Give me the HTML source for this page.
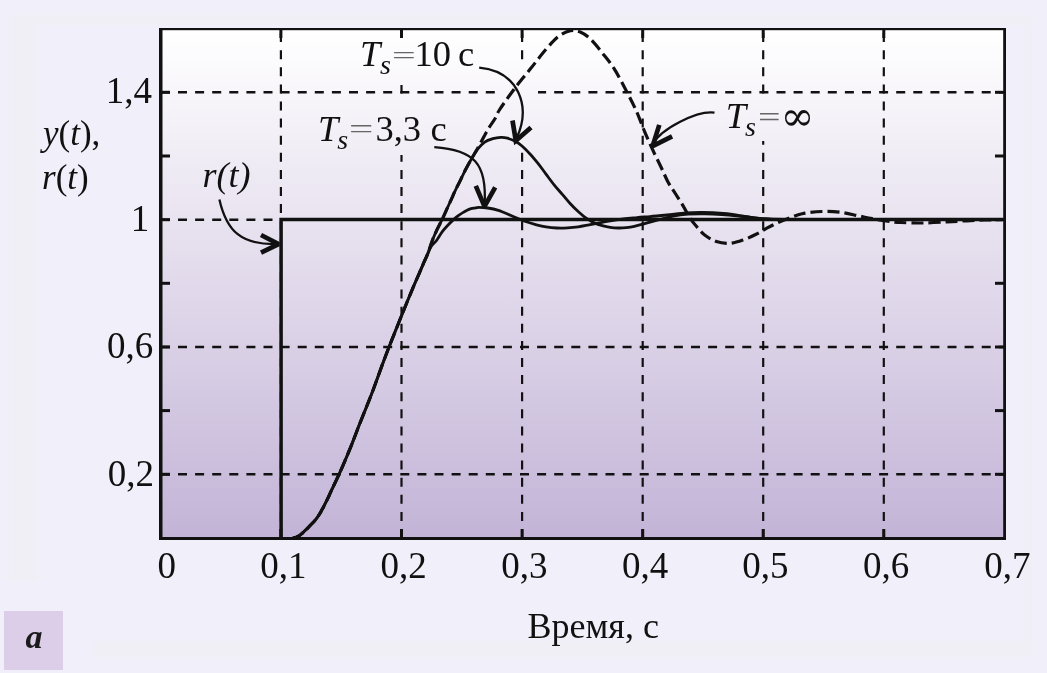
<!DOCTYPE html>
<html><head><meta charset="utf-8"><style>
html,body{margin:0;padding:0;background:#f1f0fa;}
body{width:1047px;height:673px;overflow:hidden;position:relative;}
svg{position:absolute;left:0;top:0;display:block;}
svg text{font-kerning:none;}
.lbl{position:absolute;left:4px;top:611px;width:59px;height:59px;background:#dccde8;}
</style></head><body>
<svg width="1047" height="673" viewBox="0 0 1047 673">
<defs>
<linearGradient id="pg" gradientUnits="userSpaceOnUse" x1="0" y1="30" x2="0" y2="537">
<stop offset="0" stop-color="#ffffff"/>
<stop offset="1" stop-color="#c3b4d7"/>
</linearGradient>
</defs>
<rect x="0" y="0" width="1047" height="673" fill="#f1f0fa"/>
<g fill="#f1eff6"><rect x="9" y="14.5" width="1023" height="10.5"/><rect x="9" y="25" width="28" height="556"/><rect x="1025" y="25" width="7" height="632.5"/><rect x="93" y="641" width="932" height="16.5"/></g>
<rect x="160" y="29" width="844" height="509" fill="url(#pg)"/>
<g stroke="#111" stroke-width="2.5" stroke-dasharray="9 8.1" fill="none">
<line x1="401.5" y1="538" x2="401.5" y2="30" stroke-width="2.2"/>
<line x1="522.1" y1="538" x2="522.1" y2="30" stroke-width="2.2"/>
<line x1="642.7" y1="538" x2="642.7" y2="30" stroke-width="2.2"/>
<line x1="763.2" y1="538" x2="763.2" y2="30" stroke-width="2.2"/>
<line x1="883.8" y1="538" x2="883.8" y2="30" stroke-width="2.2"/>
<line x1="280.9" y1="538" x2="280.9" y2="30" stroke-width="2.2"/>
<line x1="160.9" y1="474.3" x2="1003" y2="474.3" stroke-dasharray="9 8.1"/>
<line x1="160.9" y1="347.0" x2="1003" y2="347.0" stroke-dasharray="9 8.1"/>
<line x1="160.9" y1="219.7" x2="1003" y2="219.7" stroke-dasharray="9 8.1"/>
<line x1="160.9" y1="92.3" x2="1003" y2="92.3" stroke-dasharray="9 8.1"/>
</g>
<g fill="url(#pg)">
<rect x="355" y="38" width="125" height="47"/>
<rect x="315" y="95" width="135" height="60"/>
<rect x="496" y="67" width="42" height="83"/>
<rect x="722" y="95" width="93" height="46"/>
</g>
<g stroke="#111" stroke-width="3" fill="none">
<line x1="161" y1="474.3" x2="170" y2="474.3"/>
<line x1="1004" y1="474.3" x2="995" y2="474.3"/>
<line x1="161" y1="410.6" x2="170" y2="410.6"/>
<line x1="1004" y1="410.6" x2="995" y2="410.6"/>
<line x1="161" y1="347.0" x2="170" y2="347.0"/>
<line x1="1004" y1="347.0" x2="995" y2="347.0"/>
<line x1="161" y1="283.3" x2="170" y2="283.3"/>
<line x1="1004" y1="283.3" x2="995" y2="283.3"/>
<line x1="161" y1="219.7" x2="170" y2="219.7"/>
<line x1="1004" y1="219.7" x2="995" y2="219.7"/>
<line x1="161" y1="156.0" x2="170" y2="156.0"/>
<line x1="1004" y1="156.0" x2="995" y2="156.0"/>
<line x1="161" y1="92.3" x2="170" y2="92.3"/>
<line x1="1004" y1="92.3" x2="995" y2="92.3"/>
<line x1="280.9" y1="29" x2="280.9" y2="38"/>
<line x1="280.9" y1="538" x2="280.9" y2="529"/>
<line x1="401.5" y1="29" x2="401.5" y2="38"/>
<line x1="401.5" y1="538" x2="401.5" y2="529"/>
<line x1="522.1" y1="29" x2="522.1" y2="38"/>
<line x1="522.1" y1="538" x2="522.1" y2="529"/>
<line x1="642.7" y1="29" x2="642.7" y2="38"/>
<line x1="642.7" y1="538" x2="642.7" y2="529"/>
<line x1="763.2" y1="29" x2="763.2" y2="38"/>
<line x1="763.2" y1="538" x2="763.2" y2="529"/>
<line x1="883.8" y1="29" x2="883.8" y2="38"/>
<line x1="883.8" y1="538" x2="883.8" y2="529"/>
</g>
<g fill="none" stroke="#111" stroke-linejoin="round">
<path d="M293.0,537.9 C293.5,537.8 295.0,537.6 296.0,537.3 C297.0,537.0 298.0,536.5 299.1,535.8 C300.2,535.1 301.3,534.1 302.5,533.1 C303.7,532.0 304.9,530.8 306.1,529.6 C307.3,528.5 308.4,527.3 309.6,526.1 C310.8,524.9 312.0,523.7 313.2,522.4 C314.4,521.1 315.5,519.9 316.6,518.4 C317.7,517.0 318.7,515.5 319.7,513.8 C320.7,512.1 321.7,510.2 322.8,508.3 C323.8,506.3 324.9,504.3 325.9,502.2 C327.0,500.1 328.0,497.9 329.0,495.8 C330.0,493.7 330.9,491.6 331.9,489.4 C332.9,487.3 333.9,485.3 335.0,482.9 C336.2,480.4 337.5,477.7 338.8,474.9 C340.1,472.0 341.6,468.6 343.0,465.5 C344.3,462.4 345.6,459.2 346.9,456.2 C348.2,453.2 349.3,450.4 350.6,447.3 C351.9,444.2 353.1,441.2 354.4,437.6 C355.8,434.1 357.2,430.3 358.8,426.1 C360.4,421.9 362.3,417.4 364.2,412.6 C366.1,407.8 368.3,402.6 370.3,397.3 C372.4,392.1 374.4,386.5 376.4,381.0 C378.4,375.5 380.2,370.4 382.4,364.4 C384.7,358.4 387.0,352.1 389.8,345.1 C392.6,338.0 396.1,329.3 399.0,322.0 C401.9,314.7 404.9,307.4 407.3,301.5 C409.7,295.6 411.6,291.1 413.5,286.5 C415.5,281.8 417.3,277.7 419.1,273.7 C420.8,269.6 422.5,265.7 424.0,262.2 C425.5,258.8 426.7,256.6 428.1,252.9 C429.5,249.2 431.0,243.8 432.5,240.0 C434.0,236.2 435.3,233.4 436.9,229.9 C438.5,226.4 440.7,222.6 442.3,219.2 C443.9,215.8 445.2,212.7 446.7,209.4 C448.2,206.1 449.7,202.9 451.2,199.6 C452.7,196.3 454.1,192.9 455.6,189.8 C457.1,186.7 458.4,184.4 460.1,180.9 C461.8,177.4 463.9,172.8 466.0,168.8 C468.1,164.8 470.9,159.9 472.7,156.8 C474.5,153.7 475.4,152.4 476.7,150.1 C478.0,147.8 479.1,145.6 480.7,142.7 C482.3,139.8 484.5,135.5 486.1,132.7 C487.7,129.9 488.6,128.4 490.1,126.0 C491.7,123.5 493.8,120.7 495.4,118.0 C496.9,115.3 496.3,114.8 499.4,110.0 C502.5,105.2 509.0,96.0 514.1,89.2 C519.2,82.4 524.9,75.8 530.2,69.1 C535.6,62.4 541.5,54.5 546.2,49.1 C550.9,43.7 554.3,39.5 558.3,36.5 C562.3,33.5 566.6,31.6 570.3,30.8 C574.0,30.1 576.9,30.6 580.3,32.0 C583.6,33.4 586.7,35.5 590.4,39.0 C594.1,42.5 598.4,48.1 602.4,53.1 C606.4,58.1 610.4,62.7 614.4,69.1 C618.4,75.4 622.8,84.2 626.5,91.2 C630.2,98.2 633.5,104.6 636.5,111.3 C639.5,118.0 641.8,125.0 644.5,131.3 C647.2,137.7 649.8,143.5 652.5,149.4 C655.2,155.3 658.4,161.6 661.0,167.0 C663.6,172.4 665.7,177.7 668.0,182.0 C670.3,186.3 672.5,189.1 675.0,193.0 C677.5,196.9 680.2,201.0 682.8,205.3 C685.4,209.6 687.9,214.8 690.4,218.6 C692.9,222.4 695.5,225.3 698.0,228.2 C700.5,231.1 702.6,233.6 705.7,235.8 C708.8,238.0 712.3,240.2 716.4,241.5 C720.5,242.8 725.6,243.6 730.2,243.3 C734.8,243.0 739.6,241.2 743.9,239.7 C748.2,238.2 752.3,236.2 756.1,234.3 C759.9,232.4 763.2,230.1 766.8,228.2 C770.4,226.3 773.5,224.7 777.5,222.9 C781.5,221.1 786.9,219.0 791.0,217.5 C795.1,216.0 796.9,214.8 802.0,213.8 C807.1,212.8 815.1,211.7 821.7,211.5 C828.3,211.3 835.3,211.7 841.5,212.4 C847.7,213.2 853.9,215.0 859.0,216.0 C864.1,217.0 867.8,217.8 872.3,218.6 C876.8,219.4 881.2,220.3 886.0,221.0 C890.8,221.7 894.7,222.2 900.8,222.5 C906.9,222.8 915.1,223.1 922.8,223.0 C930.5,222.9 939.7,222.3 947.0,221.9 C954.3,221.5 960.4,221.1 966.7,220.8 C973.0,220.5 979.0,220.2 985.0,220.0 C991.0,219.8 1000.0,219.6 1003.0,219.5" stroke-width="3.2" stroke-dasharray="12 5"/>
<path d="M293.0,537.9 C293.5,537.8 295.0,537.6 296.0,537.3 C297.0,537.0 298.0,536.5 299.1,535.8 C300.2,535.1 301.3,534.1 302.5,533.1 C303.7,532.0 304.9,530.8 306.1,529.6 C307.3,528.5 308.4,527.3 309.6,526.1 C310.8,524.9 312.0,523.7 313.2,522.4 C314.4,521.1 315.5,519.9 316.6,518.4 C317.7,517.0 318.7,515.5 319.7,513.8 C320.7,512.1 321.7,510.2 322.8,508.3 C323.8,506.3 324.9,504.3 325.9,502.2 C327.0,500.1 328.0,497.9 329.0,495.8 C330.0,493.7 330.9,491.6 331.9,489.4 C332.9,487.3 333.9,485.3 335.0,482.9 C336.2,480.4 337.5,477.7 338.8,474.9 C340.1,472.0 341.6,468.6 343.0,465.5 C344.3,462.4 345.6,459.2 346.9,456.2 C348.2,453.2 349.3,450.4 350.6,447.3 C351.9,444.2 353.1,441.2 354.4,437.6 C355.8,434.1 357.2,430.3 358.8,426.1 C360.4,421.9 362.3,417.4 364.2,412.6 C366.1,407.8 368.3,402.6 370.3,397.3 C372.4,392.1 374.4,386.5 376.4,381.0 C378.4,375.5 380.2,370.4 382.4,364.4 C384.7,358.4 387.0,352.1 389.8,345.1 C392.6,338.0 396.1,329.3 399.0,322.0 C401.9,314.7 404.9,307.4 407.3,301.5 C409.7,295.6 411.6,291.1 413.5,286.5 C415.5,281.8 417.3,277.7 419.1,273.7 C420.8,269.6 422.5,265.7 424.0,262.2 C425.5,258.8 426.7,256.6 428.1,252.9 C429.5,249.2 431.0,243.8 432.5,240.0 C434.0,236.2 435.3,233.4 436.9,229.9 C438.5,226.4 440.7,222.6 442.3,219.2 C443.9,215.8 445.2,212.7 446.7,209.4 C448.2,206.1 449.7,202.9 451.2,199.6 C452.7,196.3 454.1,192.9 455.6,189.8 C457.1,186.7 458.4,184.4 460.1,180.9 C461.8,177.4 463.9,172.8 466.0,168.8 C468.1,164.8 470.9,159.9 472.7,156.8 C474.5,153.7 474.7,152.6 476.7,150.1 C478.7,147.6 482.0,144.0 484.7,142.1 C487.4,140.2 490.1,139.5 492.8,138.7 C495.5,137.9 498.4,137.5 500.8,137.4 C503.2,137.3 504.9,137.5 507.4,138.2 C509.9,138.9 513.3,140.3 515.7,141.6 C518.1,142.9 519.6,143.9 522.0,146.0 C524.4,148.1 527.3,151.1 530.0,154.0 C532.7,156.9 535.3,160.1 538.0,163.4 C540.7,166.8 543.3,170.5 546.0,174.1 C548.7,177.7 551.4,181.5 554.1,184.8 C556.8,188.1 559.4,191.0 562.1,194.1 C564.8,197.2 567.4,200.6 570.1,203.5 C572.8,206.4 575.5,209.1 578.2,211.5 C580.9,213.9 583.5,216.3 586.2,218.2 C588.9,220.1 591.5,221.7 594.2,222.9 C596.9,224.1 599.5,224.9 602.2,225.6 C604.9,226.3 607.6,226.9 610.3,227.3 C613.0,227.7 615.6,227.9 618.3,228.0 C621.0,228.1 623.6,227.9 626.3,227.6 C629.0,227.3 631.6,226.9 634.3,226.3 C637.0,225.7 639.8,224.9 642.4,224.2 C645.0,223.5 647.1,223.0 650.0,222.2 C652.9,221.4 656.2,220.5 660.0,219.5 C663.8,218.5 668.3,217.1 673.0,216.2 C677.7,215.3 682.7,214.6 688.0,214.2 C693.3,213.8 699.3,213.7 705.0,213.8 C710.7,213.9 716.2,214.2 722.0,214.6 C727.8,215.0 734.3,215.7 740.0,216.3 C745.7,216.9 750.7,217.7 756.0,218.2 C761.3,218.7 764.7,219.0 772.0,219.2 C779.3,219.4 787.0,219.5 800.0,219.6 C813.0,219.7 816.2,219.6 850.0,219.5 C883.8,219.4 977.5,219.3 1003.0,219.3" stroke-width="2.8"/>
<path d="M293.0,537.9 C293.5,537.8 295.0,537.6 296.0,537.3 C297.0,537.0 298.0,536.5 299.1,535.8 C300.2,535.1 301.3,534.1 302.5,533.1 C303.7,532.0 304.9,530.8 306.1,529.6 C307.3,528.5 308.4,527.3 309.6,526.1 C310.8,524.9 312.0,523.7 313.2,522.4 C314.4,521.1 315.5,519.9 316.6,518.4 C317.7,517.0 318.7,515.5 319.7,513.8 C320.7,512.1 321.7,510.2 322.8,508.3 C323.8,506.3 324.9,504.3 325.9,502.2 C327.0,500.1 328.0,497.9 329.0,495.8 C330.0,493.7 330.9,491.6 331.9,489.4 C332.9,487.3 333.9,485.3 335.0,482.9 C336.2,480.4 337.5,477.7 338.8,474.9 C340.1,472.0 341.6,468.6 343.0,465.5 C344.3,462.4 345.6,459.2 346.9,456.2 C348.2,453.2 349.3,450.4 350.6,447.3 C351.9,444.2 353.1,441.2 354.4,437.6 C355.8,434.1 357.2,430.3 358.8,426.1 C360.4,421.9 362.3,417.4 364.2,412.6 C366.1,407.8 368.3,402.6 370.3,397.3 C372.4,392.1 374.4,386.5 376.4,381.0 C378.4,375.5 380.2,370.4 382.4,364.4 C384.7,358.4 387.0,352.1 389.8,345.1 C392.6,338.0 396.1,329.3 399.0,322.0 C401.9,314.7 404.9,307.4 407.3,301.5 C409.7,295.6 411.6,291.1 413.5,286.5 C415.5,281.8 417.3,277.7 419.1,273.7 C420.8,269.6 422.5,265.7 424.0,262.2 C425.5,258.8 426.9,255.6 428.1,252.9 C429.3,250.2 430.0,248.2 431.5,246.0 C433.0,243.8 435.1,242.4 436.9,240.0 C438.7,237.6 440.5,234.1 442.3,231.7 C444.1,229.3 445.8,227.4 447.6,225.5 C449.4,223.6 451.2,221.7 453.0,220.1 C454.8,218.5 456.5,217.0 458.3,215.7 C460.1,214.4 461.9,213.1 463.7,212.1 C465.5,211.1 467.2,210.1 469.0,209.4 C470.8,208.7 472.7,208.4 474.3,208.1 C475.9,207.8 476.6,207.4 478.8,207.4 C481.0,207.4 484.4,207.5 487.7,208.0 C491.0,208.5 494.4,209.1 498.4,210.4 C502.4,211.7 507.2,214.0 511.5,215.8 C515.8,217.6 519.8,219.5 524.0,221.0 C528.2,222.5 532.8,223.8 536.5,224.8 C540.2,225.8 542.6,226.4 546.0,226.9 C549.4,227.4 553.2,227.8 556.8,228.0 C560.4,228.2 563.9,228.1 567.5,227.9 C571.1,227.7 574.6,227.4 578.2,226.9 C581.8,226.4 585.3,225.6 588.9,224.9 C592.5,224.2 596.0,223.6 599.6,222.9 C603.2,222.2 606.3,221.6 610.3,220.9 C614.3,220.2 619.1,219.5 623.6,218.9 C628.1,218.3 632.6,218.0 637.0,217.6 C641.4,217.2 645.0,217.0 650.0,216.6 C655.0,216.2 661.0,215.6 667.0,215.0 C673.0,214.4 680.5,213.4 686.0,213.0 C691.5,212.6 695.5,212.5 700.0,212.4 C704.5,212.3 708.5,212.4 713.0,212.6 C717.5,212.8 722.5,213.2 727.0,213.7 C731.5,214.2 735.5,215.0 740.0,215.7 C744.5,216.4 749.7,217.1 754.0,217.7 C758.3,218.2 758.3,218.7 766.0,219.0 C773.7,219.3 760.5,219.5 800.0,219.6 C839.5,219.7 969.2,219.4 1003.0,219.4" stroke-width="2.8"/>
<path d="M281.1,539 L281.1,219.6 L1003,219.6" stroke-width="3.5" stroke-linejoin="miter"/>
</g>
<g fill="#111">
<rect x="159" y="28" width="3.5" height="512"/>
<rect x="159" y="28" width="847" height="2.2"/>
<rect x="1003.2" y="28" width="2.8" height="512"/>
<rect x="159" y="537" width="847" height="3"/>
</g>
<g fill="none" stroke="#111" stroke-linecap="butt">
<path d="M219.4,199.4 C226.7,231.9 242.1,244.8 276.0,244.1" stroke-width="2.3"/>
<path d="M261,235 L278.6,244.1 L261,252.6" stroke-width="4.7" stroke-linejoin="miter" stroke-miterlimit="2.2"/>
<path d="M479.2,67.6 C518.5,71.4 531.5,106.0 516.5,138.5" stroke-width="2.3"/>
<path d="M512.5,120.5 L515.8,140.7 L531,127.4" stroke-width="4.7" stroke-linejoin="miter" stroke-miterlimit="2.2"/>
<path d="M434.3,147.1 C474.4,150.0 487.0,163.7 484.6,204.0" stroke-width="2.3"/>
<path d="M475.8,185.8 L484.5,206.3 L495.2,187.3" stroke-width="4.7" stroke-linejoin="miter" stroke-miterlimit="2.2"/>
<path d="M714.5,112.6 C697.2,110.3 660.9,128.6 652.5,144.5" stroke-width="2.3"/>
<path d="M659.3,124.9 L652.6,146.2 L672.1,136.3" stroke-width="4.7" stroke-linejoin="miter" stroke-miterlimit="2.2"/>
</g>
<g font-family="Liberation Serif, serif" fill="#111">
<text x="157.49" y="577.50" font-size="37.00">0</text>
<text x="260.29" y="577.80" font-size="37.00">0,1</text>
<text x="380.59" y="577.80" font-size="37.00">0,2</text>
<text x="501.29" y="577.80" font-size="37.00">0,3</text>
<text x="622.09" y="577.80" font-size="37.00">0,4</text>
<text x="742.29" y="577.80" font-size="37.00">0,5</text>
<text x="863.09" y="577.80" font-size="37.00">0,6</text>
<text x="984.29" y="577.80" font-size="37.00">0,7</text>
<text x="105.83" y="103.23" font-size="37.00">1,4</text>
<text x="130.72" y="230.53" font-size="37.00">1</text>
<text x="106.95" y="358.01" font-size="37.00">0,6</text>
<text x="107.79" y="486.41" font-size="37.00">0,2</text>
<text x="527.56" y="637.60" font-size="36.00">Время, с</text>
<text x="43.00" y="144.80" font-size="35"><tspan font-style="italic">y</tspan>(<tspan font-style="italic">t</tspan>),</text>
<text x="42.00" y="189.00" font-size="35"><tspan font-style="italic">r</tspan>(<tspan font-style="italic">t</tspan>)</text>
<text x="202.44" y="186.50" font-size="36.00" font-style="italic">r(t)</text>
<text x="360.01" y="66.00" font-size="36.50" font-style="italic">T</text>
<text x="380.06" y="73.83" font-size="28.00" font-style="italic">s</text>
<text transform="translate(392.10,62.87) scale(1.138,0.649)" x="0" y="0" font-size="37.0" fill="#666">=</text>
<text x="414.49" y="66.00" font-size="36.50">10</text>
<text x="457.91" y="66.00" font-size="36.50">с</text>
<text x="317.91" y="141.40" font-size="36.50" font-style="italic">T</text>
<text x="337.36" y="148.53" font-size="28.00" font-style="italic">s</text>
<text transform="translate(348.95,137.65) scale(1.167,0.724)" x="0" y="0" font-size="37.0" fill="#666">=</text>
<text x="375.45" y="141.40" font-size="36.50">3,3</text>
<text x="430.61" y="141.40" font-size="36.50">с</text>
<text x="725.71" y="128.00" font-size="36.50" font-style="italic">T</text>
<text x="744.96" y="136.23" font-size="28.00" font-style="italic">s</text>
<text transform="translate(758.11,127.13) scale(1.080,0.800)" x="0" y="0" font-size="37.0" fill="#666">=</text>
<text x="781.8" y="129.5" font-size="40.5" font-family="DejaVu Math TeX Gyre, DejaVu Serif, serif">∞</text>
</g>
</svg>
<div class="lbl"></div>
<svg width="1047" height="673" style="position:absolute;left:0;top:0"><text x="25.6" y="648.3" font-family="Liberation Serif, serif" font-style="italic" font-weight="bold" font-size="34" fill="#1a1a1a">a</text></svg>
</body></html>
